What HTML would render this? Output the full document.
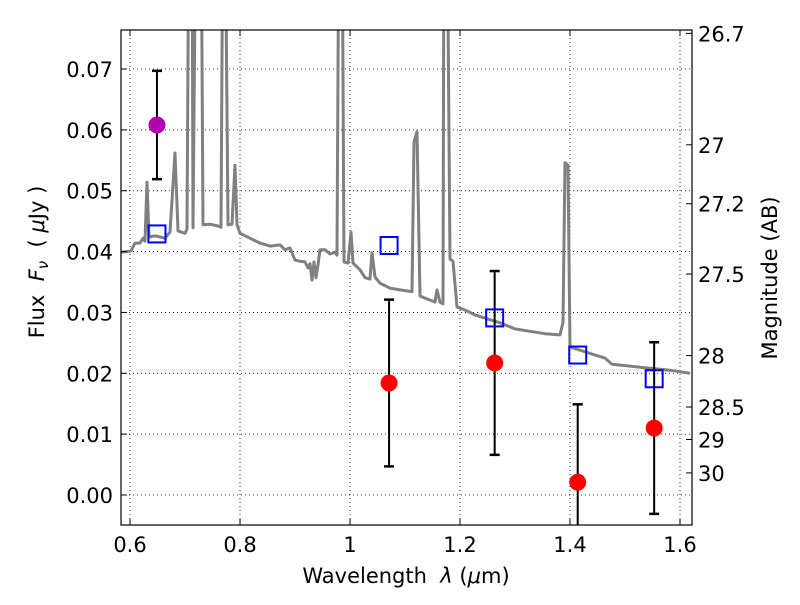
<!DOCTYPE html>
<html><head><meta charset="utf-8"><style>
body{margin:0;background:#fff}
svg{font-family:"DejaVu Sans","Liberation Sans",sans-serif}
</style></head><body>
<svg id="chart" width="800" height="600" xmlns="http://www.w3.org/2000/svg">
<defs><clipPath id="clip"><rect x="121" y="30" width="571" height="495"/></clipPath></defs>
<g id="grid"></g>
<g id="spec" clip-path="url(#clip)"></g>
<g id="marks" clip-path="url(#clip)"></g>
<rect x="121" y="30" width="571" height="495" fill="none" stroke="#000" stroke-width="1.2"/>
<g id="axes" font-size="21"></g>
<text x="406" y="583" font-size="21" text-anchor="middle">Wavelength&#160;&#160;<tspan font-style="italic">λ</tspan> (<tspan font-style="italic">μ</tspan>m)</text>
<text transform="translate(44,262) rotate(-90)" font-size="21" text-anchor="middle">Flux&#160;&#160;<tspan font-style="italic">F</tspan><tspan font-style="italic" font-size="15" dy="4">ν</tspan><tspan dy="-4">&#160;&#160;(&#160;</tspan><tspan font-style="italic">μ</tspan>Jy )</text>
<text transform="translate(777,278) rotate(-90)" font-size="21" text-anchor="middle">Magnitude (AB)</text>
</svg>
<script>
const specLam=[0.5836,0.6018,0.6091,0.6182,0.6236,0.6273,0.6309,0.6345,0.6455,0.6545,0.6636,0.6727,0.6818,0.6873,0.7,0.7036,0.7073,0.7127,0.7145,0.72,0.7291,0.7327,0.7455,0.76,0.7655,0.7691,0.7727,0.7782,0.7855,0.7909,0.7945,0.8,0.8182,0.8364,0.8545,0.8727,0.8818,0.8909,0.9,0.9091,0.9182,0.9236,0.9273,0.9309,0.9345,0.9382,0.9418,0.9455,0.9545,0.9636,0.9727,0.9764,0.98,0.9855,0.9891,0.9964,1.0018,1.0055,1.0182,1.0273,1.0364,1.04,1.0455,1.0545,1.0727,1.0909,1.1127,1.1164,1.1218,1.1273,1.1545,1.1582,1.1636,1.1691,1.1709,1.1764,1.1818,1.1873,1.1945,1.2091,1.2273,1.2545,1.2727,1.3,1.3273,1.3545,1.3818,1.3873,1.3909,1.3964,1.4,1.4182,1.4455,1.4636,1.4764,1.5273,1.5818,1.6182];
const specFlux=[0.0399,0.0401,0.0414,0.0414,0.0422,0.0417,0.0514,0.0424,0.0426,0.0424,0.0422,0.0432,0.0562,0.0434,0.0430,0.0437,0.1,0.1,0.0439,0.1,0.1,0.0444,0.0445,0.0442,0.0440,0.1,0.1,0.0444,0.0445,0.0542,0.0444,0.0430,0.0422,0.0414,0.0409,0.0411,0.0403,0.0406,0.0386,0.0384,0.0383,0.0373,0.0380,0.0353,0.0383,0.0357,0.0378,0.0403,0.0403,0.0396,0.0399,0.0394,0.1,0.1,0.0383,0.0381,0.0432,0.0381,0.0370,0.0357,0.0355,0.0398,0.0358,0.0348,0.0340,0.0337,0.0334,0.0580,0.0597,0.0327,0.0317,0.0337,0.0317,0.0314,0.1,0.1,0.0388,0.0384,0.0309,0.0304,0.0296,0.0288,0.0283,0.0273,0.0269,0.0265,0.0263,0.0284,0.0546,0.0542,0.0243,0.0238,0.0230,0.0225,0.0215,0.0210,0.0205,0.0200];
const purpleLam=[0.649], purpleFlux=[0.0608], purpleErr=[0.0089];
const squareLam=[0.649,1.071,1.263,1.414,1.553];
const squareFlux=[0.0429,0.0410,0.0291,0.0230,0.0191];
const redLam=[1.071,1.263,1.414,1.553];
const redFlux=[0.0184,0.0217,0.0021,0.0110];
const redErr=[0.0137,0.0151,0.0128,0.0141];
const xTicks=[0.6,0.8,1,1.2,1.4,1.6];
const xTickLabels=["0.6","0.8","1","1.2","1.4","1.6"];
const yTicks=[0,0.01,0.02,0.03,0.04,0.05,0.06,0.07];
const yTickLabels=["0.00","0.01","0.02","0.03","0.04","0.05","0.06","0.07"];
const magTicks=[26.7,27,27.2,27.5,28,28.5,29,30];
const magTickLabels=["26.7","27","27.2","27.5","28","28.5","29","30"];

const X0=121,X1=692,Y0=30,Y1=525,XMIN=0.5836,XMAX=1.6218,YMIN=-0.00493,YMAX=0.07641;
const sx=v=>X0+(v-XMIN)/(XMAX-XMIN)*(X1-X0);
const sy=v=>Y1-(v-YMIN)/(YMAX-YMIN)*(Y1-Y0);
const NS="http://www.w3.org/2000/svg";
function mk(tag,attrs,parent){const e=document.createElementNS(NS,tag);for(const k in attrs)e.setAttribute(k,attrs[k]);parent.appendChild(e);return e;}
const grid=document.getElementById('grid'),axes=document.getElementById('axes');
const spec=document.getElementById('spec'),marks=document.getElementById('marks');
xTicks.forEach((t,i)=>{const x=sx(t);
 let g=mk('line',{x1:x,x2:x,y1:Y0,y2:Y1,stroke:'#000','stroke-width':0.8,'stroke-dasharray':'1,3'},grid);
 
 
 mk('line',{x1:x,x2:x,y1:Y1,y2:Y1-6,stroke:'#000'},axes);
 mk('line',{x1:x,x2:x,y1:Y0,y2:Y0+6,stroke:'#000'},axes);
 let l=mk('text',{x:x,y:Y1+27,'text-anchor':'middle'},axes);l.textContent=xTickLabels[i];
 
 });
yTicks.forEach((t,i)=>{const y=sy(t);
 let g=mk('line',{x1:X0,x2:X1,y1:y,y2:y,stroke:'#000','stroke-width':0.8,'stroke-dasharray':'1,3'},grid);
 
 
 mk('line',{x1:X0,x2:X0+6,y1:y,y2:y,stroke:'#000'},axes);
 let l=mk('text',{x:X0-8,y:y+8,'text-anchor':'end'},axes);l.textContent=yTickLabels[i];
 
 });
magTicks.forEach((m,i)=>{const y=sy(Math.pow(10,(23.9-m)/2.5));
 mk('line',{x1:X1,x2:X1-6,y1:y,y2:y,stroke:'#000'},axes);
 let l=mk('text',{x:X1+6,y:y+8,'text-anchor':'start'},axes);l.textContent=magTickLabels[i];
 
 });
let d=specLam.map((v,i)=>(i?'L':'M')+sx(v).toFixed(1)+','+sy(specFlux[i]).toFixed(1)).join('');
let p=mk('path',{d:d,fill:'none',stroke:'#808080','stroke-width':3,'stroke-linejoin':'round'},spec);


function errbar(x,f,e){const X=sx(x);
 mk('line',{x1:X,x2:X,y1:sy(f+e),y2:sy(f-e),stroke:'#000','stroke-width':2},marks);
 [f+e,f-e].forEach(v=>mk('line',{x1:X-5,x2:X+5,y1:sy(v),y2:sy(v),stroke:'#000','stroke-width':2.5},marks));}
purpleLam.forEach((v,i)=>{errbar(v,purpleFlux[i],purpleErr[i]);
 let c=mk('circle',{cx:sx(v),cy:sy(purpleFlux[i]),r:8.5,fill:'#b000b0'},marks);
 
 });
redLam.forEach((v,i)=>{errbar(v,redFlux[i],redErr[i]);
 let c=mk('circle',{cx:sx(v),cy:sy(redFlux[i]),r:8.5,fill:'#ff0000'},marks);
 
 });
squareLam.forEach((v,i)=>{
 let s=mk('rect',{x:sx(v)-8.5,y:sy(squareFlux[i])-8.5,width:17,height:17,fill:'none',stroke:'#0000ff','stroke-width':2},marks);
 
 });
</script>
</body></html>
